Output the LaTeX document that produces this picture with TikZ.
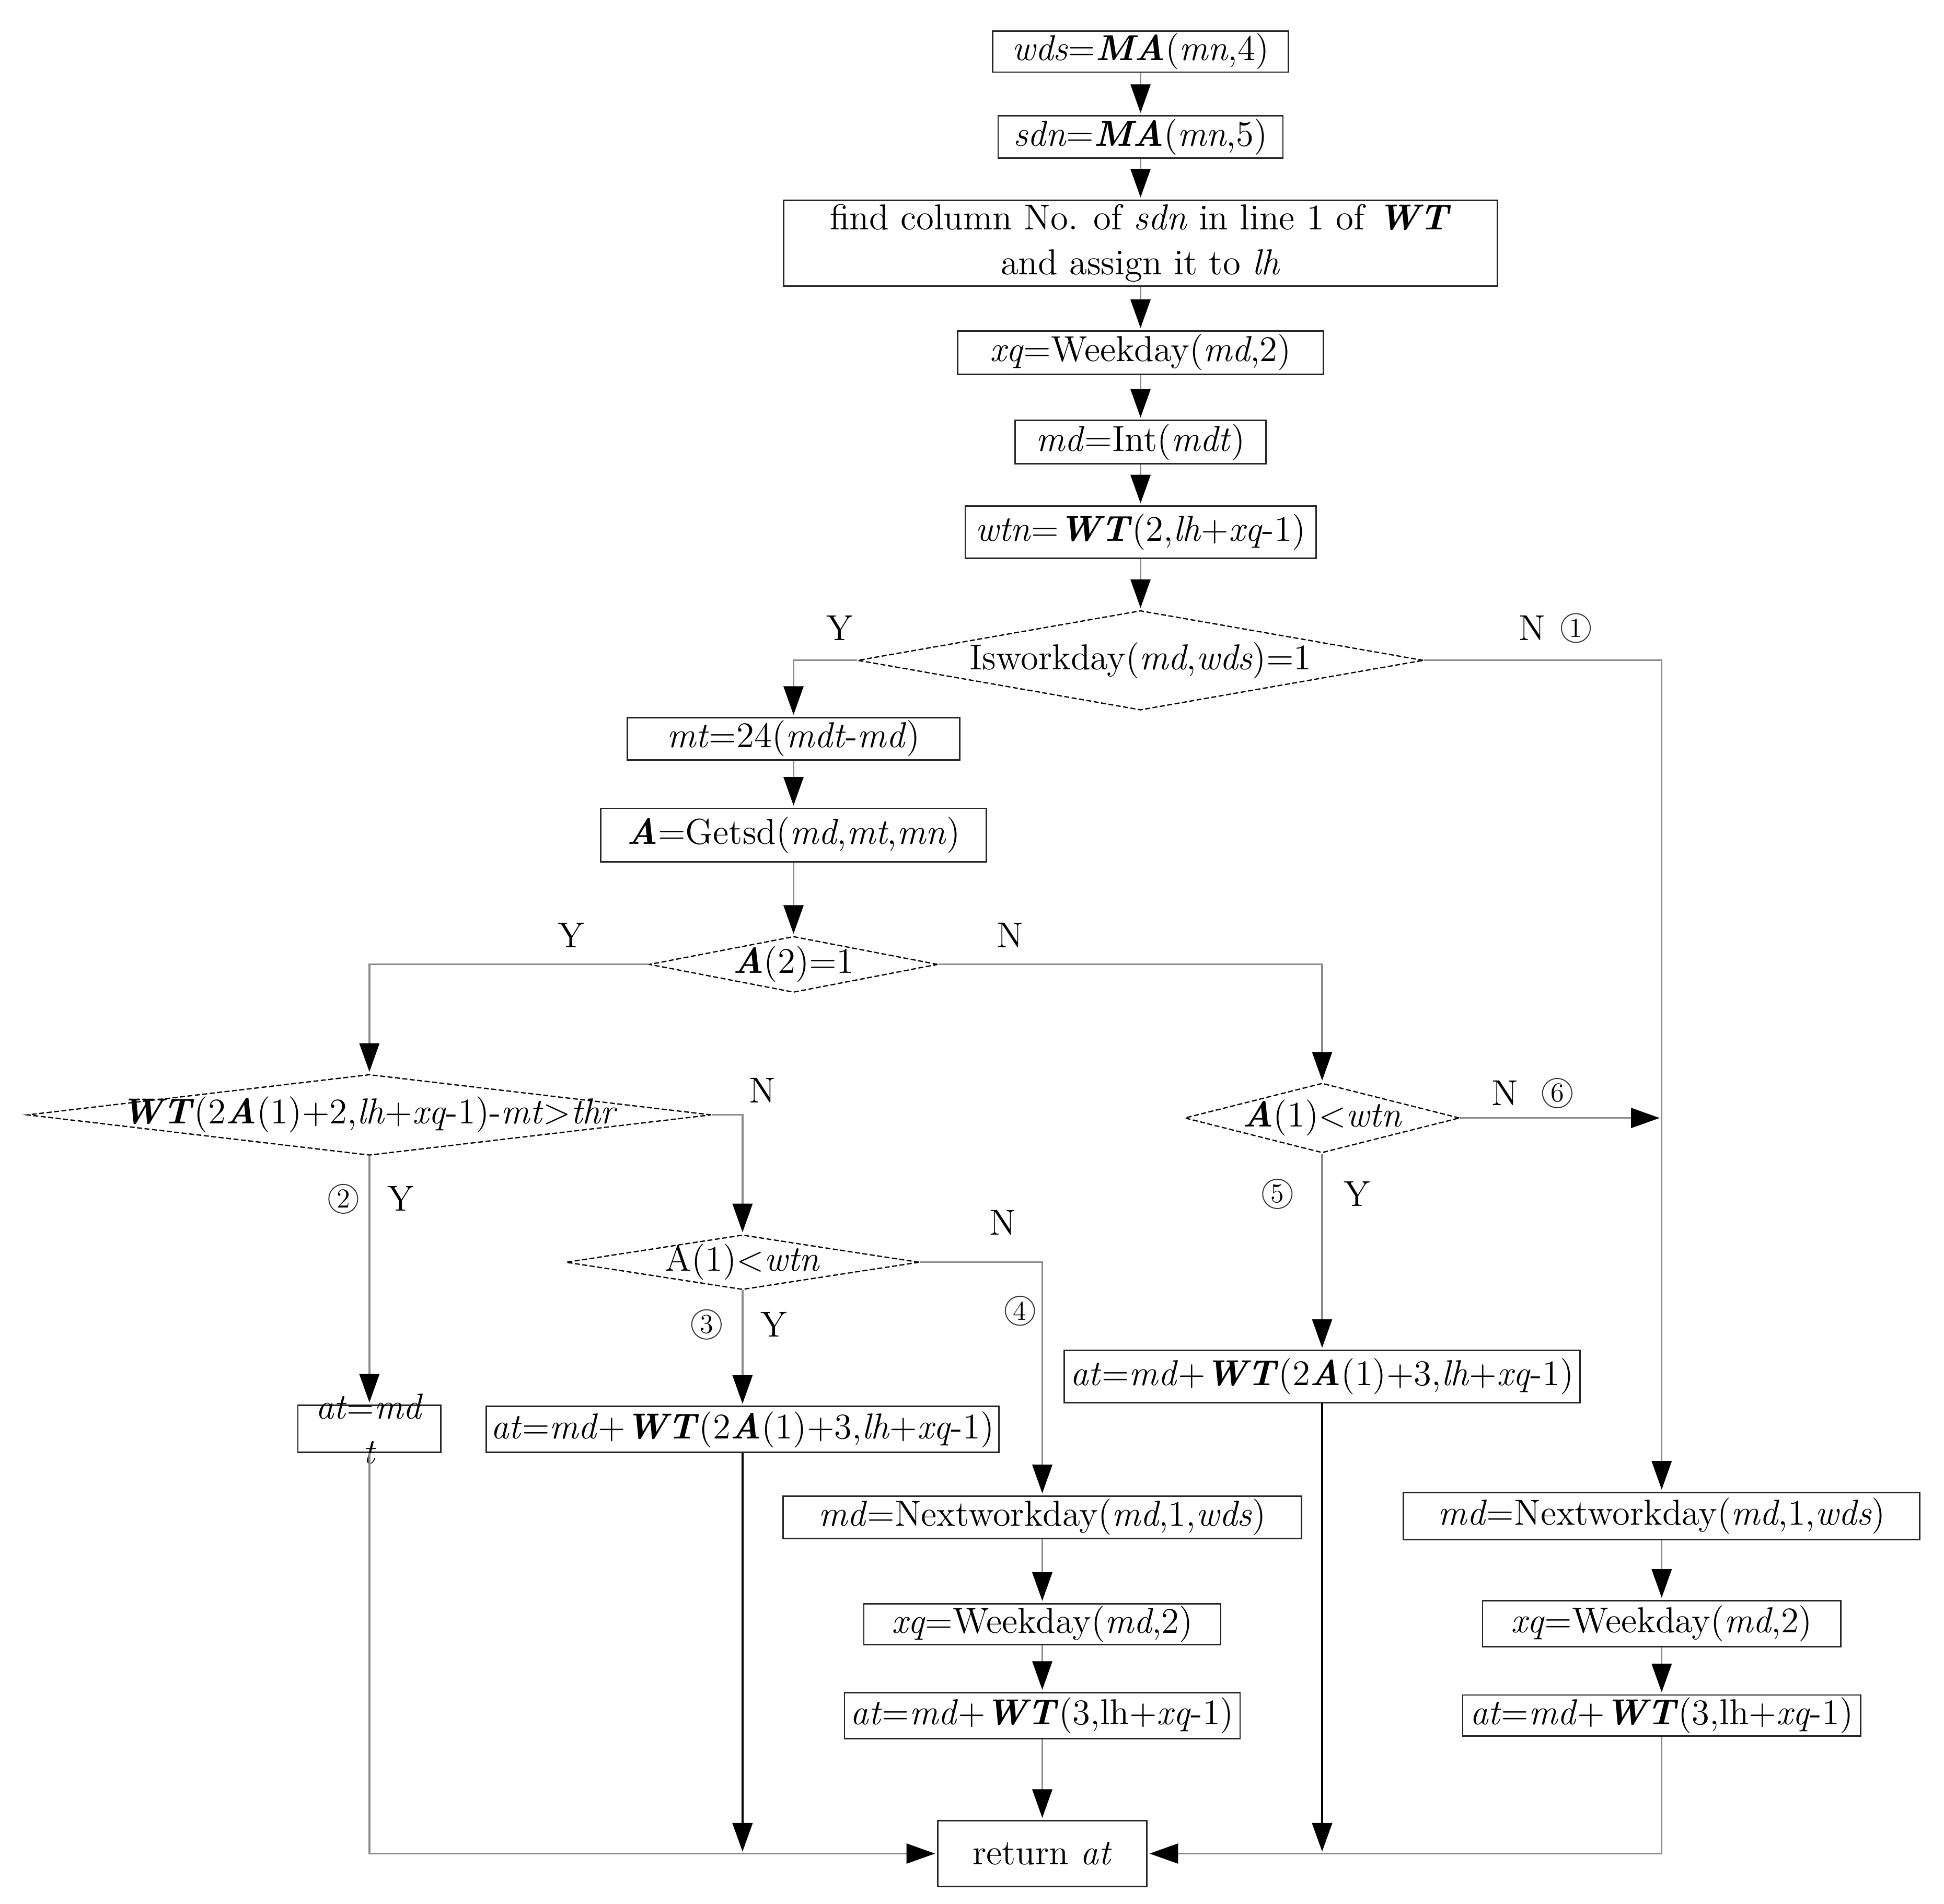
\documentclass[tikz,border=0pt]{standalone}
\usepackage{fontspec}
\usepackage{tikz}
\usetikzlibrary{shapes.geometric, arrows.meta, positioning}
\newcommand{\iv}[1]{\textit{#1}}
\newcommand{\bi}[1]{\textbf{\textit{#1}}}
\tikzset{box/.style={rectangle, draw=black!85, line width=0.6pt, inner sep=0pt, align=center},
         dec/.style={diamond, draw=black, line width=0.5pt, dash pattern=on 2pt off 1pt, inner sep=0pt},
         arr/.style={-{Triangle[length=11.5pt, width=8pt, color=black]}, shorten >=0.8pt},
         link/.style={draw=black!45, line width=0.7pt},
         main/.style={draw=black, line width=0.9pt},
         tag/.style={inner sep=0pt},
         circ/.style={circle, draw=black!80, line width=0.4pt, inner sep=0.9pt, font=\fontsize{11}{12}\selectfont}}

\begin{document}
\begin{tikzpicture}[x=0.5pt, y=-0.5pt, font=\fontsize{14.5}{18}\selectfont]
    \useasboundingbox (0,0) rectangle (1563,1531);

    % main column
    \node[box, minimum width=119pt, minimum height=16.5pt] (wds) at (917,41.5) {\iv{wds}=\bi{MA}(\iv{mn},4)};
    \node[box, minimum width=114.5pt, minimum height=17pt] (sdn) at (917,110) {\iv{sdn}=\bi{MA}(\iv{mn},5)};
    \node[box, minimum width=287pt, minimum height=34.5pt] (find) at (917,195.5) {find column No. of \iv{sdn} in line 1 of \bi{WT}\\and assign it to \iv{lh}};
    \node[box, minimum width=147pt, minimum height=17.5pt] (xq) at (917,283.5) {\iv{xq}=Weekday(\iv{md},2)};
    \node[box, minimum width=101pt, minimum height=17.5pt] (mdint) at (917,355.5) {\iv{md}=Int(\iv{mdt})};
    \node[box, minimum width=141pt, minimum height=21pt] (wtn) at (917,428) {\iv{wtn}=\bi{WT}(2,\iv{lh}+\iv{xq}-1)};
    \node[dec, minimum width=227.5pt, minimum height=40pt, label=center:{Isworkday(\iv{md},\iv{wds})=1}] (isw) at (917,531) {};

    % Y branch
    \node[box, minimum width=133.5pt, minimum height=17pt] (mt) at (638,594) {\iv{mt}=24(\iv{mdt}-\iv{md})};
    \node[box, minimum width=155pt, minimum height=21.5pt] (getsd) at (638,671.5) {\bi{A}=Getsd(\iv{md},\iv{mt},\iv{mn})};
    \node[dec, minimum width=116pt, minimum height=22.5pt, label=center:{\bi{A}(2)=1}] (a2) at (638,775.5) {};

    \node[dec, minimum width=275pt, minimum height=32.5pt, label=center:{\bi{WT}(2\bi{A}(1)+2,\iv{lh}+\iv{xq}-1)-\iv{mt}>\iv{thr}}] (wtd) at (297,896.5) {};
    \node[box, minimum width=57.5pt, minimum height=19pt, label={[align=center, font=\fontsize{14.5}{18}\selectfont]center:{\iv{at}=\iv{md}\\\iv{t}}}] (atmd) at (297,1149) {};
    \node[dec, minimum width=142pt, minimum height=22pt, label=center:{A(1)<\iv{wtn}}] (a1L) at (597,1015) {};
    \node[box, minimum width=206pt, minimum height=18.5pt] (atwtL) at (597,1149.5) {\iv{at}=\iv{md}+\bi{WT}(2\bi{A}(1)+3,\iv{lh}+\iv{xq}-1)};
    \node[box, minimum width=208.5pt, minimum height=17pt] (ndL) at (838,1220) {\iv{md}=Nextworkday(\iv{md},1,\iv{wds})};
    \node[box, minimum width=143.5pt, minimum height=16.5pt] (xqL) at (838,1306) {\iv{xq}=Weekday(\iv{md},2)};
    \node[box, minimum width=159pt, minimum height=18.5pt] (at3L) at (838,1379.5) {\iv{at}=\iv{md}+\bi{WT}(3,lh+\iv{xq}-1)};
    \node[box, minimum width=84pt, minimum height=26.5pt] (ret) at (838,1490.5) {return \iv{at}};

    % N branch of A(2)=1
    \node[dec, minimum width=110.5pt, minimum height=28pt, label=center:{\bi{A}(1)<\iv{wtn}}] (a1R) at (1063,899) {};
    \node[box, minimum width=207.5pt, minimum height=21pt] (atwtR) at (1063,1107) {\iv{at}=\iv{md}+\bi{WT}(2\bi{A}(1)+3,\iv{lh}+\iv{xq}-1)};

    % N branch of Isworkday
    \node[box, minimum width=207.5pt, minimum height=19pt] (ndR) at (1336,1219) {\iv{md}=Nextworkday(\iv{md},1,\iv{wds})};
    \node[box, minimum width=144pt, minimum height=18.5pt] (xqR) at (1336,1305.5) {\iv{xq}=Weekday(\iv{md},2)};
    \node[box, minimum width=160pt, minimum height=16.5pt] (at3R) at (1336,1379.5) {\iv{at}=\iv{md}+\bi{WT}(3,lh+\iv{xq}-1)};

    % labels
    \node[tag] (yIsw) at (675,505) {Y};
    \node[tag] (nIsw) at (1232,505) {N};
    \node[circ] (cIsw) at (1267,505) {1};
    \node[tag] (yA2) at (459,752) {Y};
    \node[tag] (nA2) at (812,752) {N};
    \node[tag] (nWtd) at (613,877) {N};
    \node[circ] (cWtd) at (276,964) {2};
    \node[tag] (yWtd) at (322,964) {Y};
    \node[tag] (nA1L) at (806,983) {N};
    \node[circ] (cA1L) at (568,1065) {3};
    \node[tag] (yA1L) at (622,1065) {Y};
    \node[circ] (dA1L) at (820,1054) {4};
    \node[tag] (nA1R) at (1210,879) {N};
    \node[circ] (dA1R) at (1252,879) {6};
    \node[circ] (cA1R) at (1027,960) {5};
    \node[tag] (yA1R) at (1091,960) {Y};

    % connectors
    \draw[link, arr] (wds) -- (sdn);
    \draw[link, arr] (sdn) -- (find);
    \draw[link, arr] (find) -- (xq);
    \draw[link, arr] (xq) -- (mdint);
    \draw[link, arr] (mdint) -- (wtn);
    \draw[link, arr] (wtn) -- (isw);
    \draw[link, arr] (isw.west) -| (mt.north);
    \draw[link, arr] (isw.east) -| (ndR.north);
    \draw[link, arr] (mt) -- (getsd);
    \draw[link, arr] (getsd) -- (a2);
    \draw[link, arr] (a2.west) -| (wtd.north);
    \draw[link, arr] (a2.east) -| (a1R.north);
    \draw[link, arr] (wtd.east) -| (a1L.north);
    \draw[link, arr] (wtd.south) -- (atmd.north);
    \draw[link, arr] (a1L.east) -| (ndL.north);
    \draw[link, arr] (a1L.south) -- (atwtL.north);
    \draw[link, arr] (a1R.east) -- (a1R.east -| ndR.north);
    \draw[link, arr] (a1R.south) -- (atwtR.north);
    \draw[link, arr] (ndL) -- (xqL);
    \draw[link, arr] (xqL) -- (at3L);
    \draw[link, arr] (at3L) -- (ret);
    \draw[link, arr] (ndR) -- (xqR);
    \draw[link, arr] (xqR) -- (at3R);
    \draw[link, arr] (atmd.south) |- (ret.west);
    \draw[main, arr] (atwtL.south) -- (atwtL.south |- ret.west);
    \draw[main, arr] (atwtR.south) -- (atwtR.south |- ret.east);
    \draw[link, arr] (at3R.south) |- (ret.east);
\end{tikzpicture}
\end{document}
